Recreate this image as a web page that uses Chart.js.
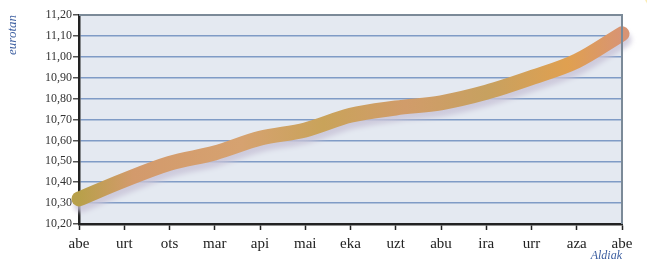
<!DOCTYPE html>
<html>
<head>
<meta charset="utf-8">
<script src="https://cdn.jsdelivr.net/npm/chart.js@4/dist/chart.umd.min.js"></script>
<style>
  html, body { margin: 0; padding: 0; background: #fff; }
  #wrap { width: 647px; height: 263px; position: relative; }
</style>
</head>
<body>
<div id="wrap"><canvas id="prezioa"></canvas></div>
<script>
// hilabeteak (abe -> abe)
var hilabeteak = ["abe", "urt", "ots", "mar", "api", "mai", "eka", "uzt", "abu", "ira", "urr", "aza", "abe"];
// prezioa eurotan
var prezioak = [10.32, 10.41, 10.49, 10.54, 10.61, 10.65, 10.72, 10.755, 10.78, 10.83, 10.90, 10.98, 11.11];
var yMin = 10.2, yMax = 11.2, yStep = 0.1;

var serif = "'Liberation Serif', 'DejaVu Serif', serif";

// plot background + grey frame top/right
var frame = {
    id: "frame",
    beforeDraw: function(chart) {
        var a = chart.chartArea, ctx = chart.ctx;
        ctx.save();
        ctx.fillStyle = "#e4e9f1";
        ctx.fillRect(a.left, a.top, a.right - a.left, a.bottom - a.top);
        ctx.restore();
    },
    afterDraw: function(chart) {
        var a = chart.chartArea, ctx = chart.ctx;
        ctx.save();
        ctx.strokeStyle = "#7b8a98";
        ctx.lineWidth = 2;
        ctx.beginPath();
        ctx.moveTo(a.left, a.top);
        ctx.lineTo(a.right, a.top);
        ctx.lineTo(a.right, a.bottom);
        ctx.stroke();
        // yellow corner arc
        ctx.fillStyle = "rgba(250,230,150,0.7)";
        ctx.beginPath();
        ctx.arc(660, -6, 16, 0, Math.PI * 2);
        ctx.fill();
        ctx.restore();
    },
    beforeDatasetDraw: function(chart) {
        var ctx = chart.ctx;
        ctx.save();
        ctx.shadowColor = "rgba(200,195,215,0.8)";
        ctx.shadowOffsetY = 6;
        ctx.shadowOffsetX = 2;
        ctx.shadowBlur = 5;
    },
    afterDatasetDraw: function(chart) {
        chart.ctx.restore();
    }
};

var lineColor = function(context) {
    var chart = context.chart, a = chart.chartArea;
    if (!a) return "#d49c68";
    var g = chart.ctx.createLinearGradient(a.left, 0, a.right, 0);
    g.addColorStop(0.00, "#b8a04a");
    g.addColorStop(0.10, "#d39a6c");
    g.addColorStop(0.30, "#d6a270");
    g.addColorStop(0.45, "#c9a35a");
    g.addColorStop(0.60, "#d19c6a");
    g.addColorStop(0.75, "#c7a160");
    g.addColorStop(0.90, "#e0a050");
    g.addColorStop(1.00, "#d89474");
    return g;
};

new Chart(document.getElementById("prezioa"), {
    type: "line",
    data: {
        labels: hilabeteak,
        datasets: [{
            data: prezioak,
            borderColor: lineColor,
            borderWidth: 15,
            borderCapStyle: "round",
            tension: 0.4,
            cubicInterpolationMode: "monotone",
            pointRadius: 0,
            fill: false,
            clip: false
        }]
    },
    options: {
        responsive: true,
        maintainAspectRatio: false,
        animation: false,
        layout: { padding: { top: 15, right: 25, left: 0, bottom: 0 } },
        plugins: { legend: { display: false }, tooltip: { enabled: false } },
        scales: {
            x: {
                offset: false,
                afterFit: function(s) { s.height = 39; },
                grid: { drawOnChartArea: false, tickLength: 6, tickColor: "#222", tickWidth: 1.5 },
                border: { color: "#222", width: 2.5 },
                ticks: { color: "#222", font: { family: serif, size: 15 }, padding: 5, maxRotation: 0, autoSkip: false },
                title: {
                    display: true, text: "Aldiak", align: "end", color: "#3c5ea0",
                    font: { family: serif, size: 12, style: "italic" }, padding: { top: 0, bottom: 0 }
                }
            },
            y: {
                min: yMin, max: yMax,
                afterFit: function(s) { s.width = 79; },
                grid: { color: "#7f9bc6", lineWidth: 1.5, tickLength: 6, tickColor: "#555", drawTicks: true },
                border: { color: "#222", width: 2.5 },
                ticks: {
                    stepSize: yStep, color: "#333", padding: 1,
                    font: { family: serif, size: 12 },
                    callback: function(v) { return v.toFixed(2).replace(".", ","); }
                },
                title: {
                    display: true, text: "eurotan", align: "end", color: "#3c5ea0",
                    font: { family: serif, size: 13, style: "italic" }, padding: { top: 5, bottom: 0 }
                }
            }
        }
    },
    plugins: [frame]
});
</script>
</body>
</html>
